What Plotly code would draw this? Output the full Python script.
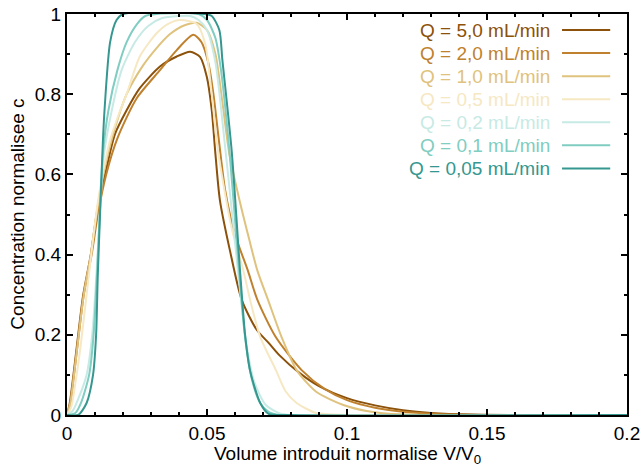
import plotly.graph_objects as go

# ---- data ----
labels = ["Q = 5,0 mL/min", "Q = 2,0 mL/min", "Q = 1,0 mL/min", "Q = 0,5 mL/min",
          "Q = 0,2 mL/min", "Q = 0,1 mL/min", "Q = 0,05 mL/min"]

x_q50 = [0, 0.001, 0.0023, 0.004, 0.0058, 0.0085, 0.0106, 0.0136, 0.0171, 0.0213, 0.026, 0.0332,
         0.0392, 0.044, 0.0475, 0.0499, 0.0517, 0.0529, 0.0546, 0.0582, 0.0624, 0.0678, 0.072,
         0.076, 0.083, 0.09, 0.1, 0.11, 0.12, 0.13, 0.145, 0.2]
y_q50 = [0, 0.03, 0.1, 0.2, 0.3, 0.4, 0.5, 0.6, 0.70, 0.76, 0.815, 0.869, 0.894, 0.906, 0.893,
         0.844, 0.76, 0.66, 0.536, 0.41, 0.287, 0.212, 0.18, 0.148, 0.105, 0.072, 0.042, 0.024,
         0.012, 0.005, 0.001, 0]

x_q20 = [0, 0.0012, 0.0025, 0.0042, 0.006, 0.0088, 0.011, 0.014, 0.018, 0.0249, 0.0332, 0.0392,
         0.0451, 0.048, 0.0505, 0.0523, 0.054, 0.0565, 0.06, 0.0646, 0.068, 0.0745, 0.0838, 0.092,
         0.1, 0.11, 0.12, 0.13, 0.145, 0.2]
y_q20 = [0, 0.03, 0.1, 0.2, 0.3, 0.4, 0.5, 0.6, 0.69, 0.79, 0.86, 0.91, 0.948, 0.93, 0.877, 0.80,
         0.70, 0.56, 0.45, 0.36, 0.287, 0.195, 0.112, 0.065, 0.037, 0.018, 0.008, 0.003, 0, 0]

x_q10 = [0, 0.0012, 0.0025, 0.0042, 0.006, 0.0085, 0.0105, 0.013, 0.0165, 0.0213, 0.027, 0.032,
         0.0368, 0.042, 0.0463, 0.05, 0.053, 0.0555, 0.058, 0.0618, 0.065, 0.068, 0.0718, 0.0766,
         0.082, 0.089, 0.0987, 0.107, 0.115, 0.13, 0.2]
y_q10 = [0, 0.03, 0.1, 0.2, 0.3, 0.4, 0.5, 0.6, 0.7, 0.8, 0.87, 0.915, 0.95, 0.972, 0.978, 0.96,
         0.90, 0.78, 0.65, 0.53, 0.44, 0.36, 0.287, 0.195, 0.112, 0.058, 0.025, 0.01, 0.003, 0, 0]

x_q05 = [0, 0.0015, 0.003, 0.005, 0.007, 0.009, 0.011, 0.013, 0.0154, 0.0185, 0.0213, 0.026,
         0.032, 0.036, 0.0404, 0.0463, 0.0493, 0.0517, 0.0535, 0.056, 0.059, 0.063, 0.0654, 0.069,
         0.0746, 0.078, 0.082, 0.089, 0.1, 0.2]
y_q05 = [0, 0.02, 0.08, 0.18, 0.3, 0.42, 0.53, 0.61, 0.686, 0.75, 0.8, 0.894, 0.952, 0.975, 0.985,
         0.975, 0.927, 0.80, 0.68, 0.57, 0.46, 0.36, 0.287, 0.195, 0.112, 0.06, 0.03, 0.005, 0, 0]

x_q02 = [0, 0.002, 0.004, 0.007, 0.009, 0.0105, 0.0117, 0.0132, 0.016, 0.0195, 0.0243, 0.029,
         0.034, 0.04, 0.044, 0.047, 0.05, 0.053, 0.056, 0.059, 0.0615, 0.064, 0.067, 0.071, 0.076,
         0.08, 0.2]
y_q02 = [0, 0.01, 0.04, 0.1, 0.2, 0.35, 0.5, 0.65, 0.76, 0.86, 0.93, 0.97, 0.99, 0.995, 0.995,
         0.985, 0.96, 0.88, 0.7, 0.5, 0.33, 0.18, 0.08, 0.025, 0.004, 0, 0]

x_q01 = [0, 0.003, 0.005, 0.0079, 0.0095, 0.0107, 0.0117, 0.0128, 0.0148, 0.018, 0.0213, 0.025,
         0.028, 0.032, 0.047, 0.05, 0.053, 0.055, 0.058, 0.061, 0.0635, 0.066, 0.069, 0.072, 0.076,
         0.2]
y_q01 = [0, 0.005, 0.03, 0.1, 0.2, 0.35, 0.5, 0.65, 0.76, 0.86, 0.93, 0.975, 0.995, 1.0, 1.0,
         0.985, 0.94, 0.86, 0.66, 0.40, 0.2, 0.09, 0.03, 0.008, 0, 0]

x_q005 = [0, 0.004, 0.007, 0.0093, 0.0104, 0.011, 0.0118, 0.0128, 0.0134, 0.0154, 0.0177, 0.02,
          0.049, 0.0517, 0.0544, 0.0555, 0.0588, 0.0618, 0.0636, 0.0654, 0.069, 0.072, 0.08, 0.2]
y_q005 = [0, 0.0, 0.03, 0.1, 0.2, 0.35, 0.5, 0.68, 0.76, 0.93, 0.985, 1.0, 1.0, 0.995, 0.96,
          0.885, 0.66, 0.36, 0.2, 0.11, 0.03, 0.003, 0, 0]

x_ticks = [0, 0.05, 0.1, 0.15, 0.2]
x_ticklabels = ["0", "0.05", "0.1", "0.15", "0.2"]
y_ticks = [0, 0.2, 0.4, 0.6, 0.8, 1]
y_ticklabels = ["0", "0.2", "0.4", "0.6", "0.8", "1"]

series = [(x_q50, y_q50), (x_q20, y_q20), (x_q10, y_q10), (x_q05, y_q05),
          (x_q02, y_q02), (x_q01, y_q01), (x_q005, y_q005)]
colors = ["#8c510a", "#bf812d", "#dfc27d", "#f6e8c3", "#c7eae5", "#80cdc1", "#35978f"]

FONT = "Liberation Sans, Arial, sans-serif"
FS = 19

fig = go.Figure()
for (xs, ys), lab, col in zip(series, labels, colors):
    fig.add_trace(go.Scatter(x=xs, y=ys, mode="lines", name=lab,
                             line=dict(color=col, width=2, shape="spline", smoothing=0.7),
                             showlegend=False))

# gnuplot-style key: right-aligned text with line sample on its right
key_top = 0.960
key_step = 0.0575
for i, (lab, col) in enumerate(zip(labels, colors)):
    yy = key_top - i * key_step
    fig.add_annotation(x=0.866, y=yy, xref="paper", yref="paper", text=lab,
                       showarrow=False, xanchor="right", yanchor="middle",
                       font=dict(family=FONT, size=FS, color=col))
    fig.add_shape(type="line", xref="paper", yref="paper", x0=0.884, x1=0.970,
                  y0=yy, y1=yy, line=dict(color=col, width=2))

axis_common = dict(showline=True, linecolor="#000000", linewidth=2, mirror="allticks",
                   ticks="inside", ticklen=6, tickwidth=1.5, tickcolor="#000000",
                   showgrid=False, zeroline=False, automargin=False,
                   ticklabeloverflow="allow",
                   tickfont=dict(family=FONT, size=FS, color="#000000"))

fig.update_xaxes(range=[0, 0.2], tickvals=x_ticks, ticktext=x_ticklabels,
                 minor=dict(ticks="inside", dtick=0.01, ticklen=3, tickcolor="#000000", tickwidth=1.5),
                 **axis_common)
fig.update_yaxes(range=[0, 1], tickvals=y_ticks, ticktext=y_ticklabels,
                 minor=dict(ticks="inside", dtick=0.1, ticklen=3, tickcolor="#000000", tickwidth=1.5),
                 **axis_common)

# axis titles placed as paper annotations (gnuplot positions)
fig.add_annotation(x=0.5, y=-0.1, xref="paper", yref="paper",
                   text="Volume introduit normalise V/V<sub>0</sub>", showarrow=False,
                   xanchor="center", yanchor="middle",
                   font=dict(family=FONT, size=FS, color="#000000"))
fig.add_annotation(x=-0.089, y=0.5, xref="paper", yref="paper",
                   text="Concentration normalisee c", showarrow=False, textangle=-90,
                   xanchor="center", yanchor="middle",
                   font=dict(family=FONT, size=FS, color="#000000"))

fig.update_layout(width=640, height=469, margin=dict(l=67, r=13, t=14, b=54),
                  plot_bgcolor="white", paper_bgcolor="white", showlegend=False)

fig.write_html("out.html", config={"displayModeBar": False},
               post_script="document.body.style.margin='0';document.body.style.overflow='hidden';")
